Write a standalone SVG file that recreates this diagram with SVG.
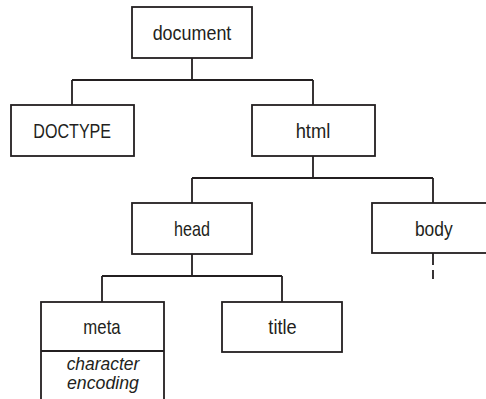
<svg xmlns="http://www.w3.org/2000/svg" width="486" height="399" viewBox="0 0 486 399">
  <style>
    .box { fill: #ffffff; stroke: #231f20; stroke-width: 1.8; }
    .wire { fill: none; stroke: #231f20; stroke-width: 1.8; }
    .dash { stroke-dasharray: 12 5; }
    .lbl { font-family: "Liberation Sans Narrow", "Liberation Sans", Arial, sans-serif; font-size: 21px; fill: #231f20; text-anchor: middle; }
    .note { font-family: "Liberation Sans Narrow", "Liberation Sans", Arial, sans-serif; font-size: 18px; font-style: italic; fill: #231f20; text-anchor: middle; }
  </style>
  <rect width="486" height="399" fill="#ffffff"/>

  <!-- tree connectors -->
  <g id="connectors">
    <path class="wire" d="M192 58V80M72 80H313M72 80V105M313 80V105"/>
    <path class="wire" d="M313 156V178M192 178H433M192 178V203M433 178V203"/>
    <path class="wire" d="M192 254V276M102 276H282M102 276V302M282 276V302"/>
    <path class="wire dash" d="M433 253V279"/>
  </g>

  <g id="document">
    <rect class="box" x="132" y="7" width="120" height="51"/>
    <text class="lbl" x="192" y="39.7" textLength="78.7" lengthAdjust="spacingAndGlyphs">document</text>
  </g>

  <g id="doctype">
    <rect class="box" x="11" y="105" width="123" height="51"/>
    <text class="lbl" x="72.2" y="137.7" textLength="77.7" lengthAdjust="spacingAndGlyphs">DOCTYPE</text>
  </g>

  <g id="html">
    <rect class="box" x="252" y="105" width="123" height="51"/>
    <text class="lbl" x="313" y="137.7" textLength="34.7" lengthAdjust="spacingAndGlyphs">html</text>
  </g>

  <g id="head">
    <rect class="box" x="132" y="203" width="120" height="51"/>
    <text class="lbl" x="192" y="235.7" textLength="36" lengthAdjust="spacingAndGlyphs">head</text>
  </g>

  <g id="body">
    <rect class="box" x="372" y="203" width="122" height="50"/>
    <text class="lbl" x="433.8" y="235.7" textLength="37.7" lengthAdjust="spacingAndGlyphs">body</text>
  </g>

  <g id="meta">
    <rect class="box" x="41" y="302" width="123" height="102"/>
    <line class="wire" x1="41" y1="351" x2="164" y2="351"/>
    <text class="lbl" x="102" y="333.5" textLength="37.3" lengthAdjust="spacingAndGlyphs">meta</text>
    <text class="note" x="103" y="370" textLength="72.7" lengthAdjust="spacingAndGlyphs">character</text>
    <text class="note" x="103" y="388.5" textLength="72" lengthAdjust="spacingAndGlyphs">encoding</text>
  </g>

  <g id="title">
    <rect class="box" x="222" y="302" width="120" height="50"/>
    <text class="lbl" x="282.5" y="333.5" textLength="28.3" lengthAdjust="spacingAndGlyphs">title</text>
  </g>
</svg>
